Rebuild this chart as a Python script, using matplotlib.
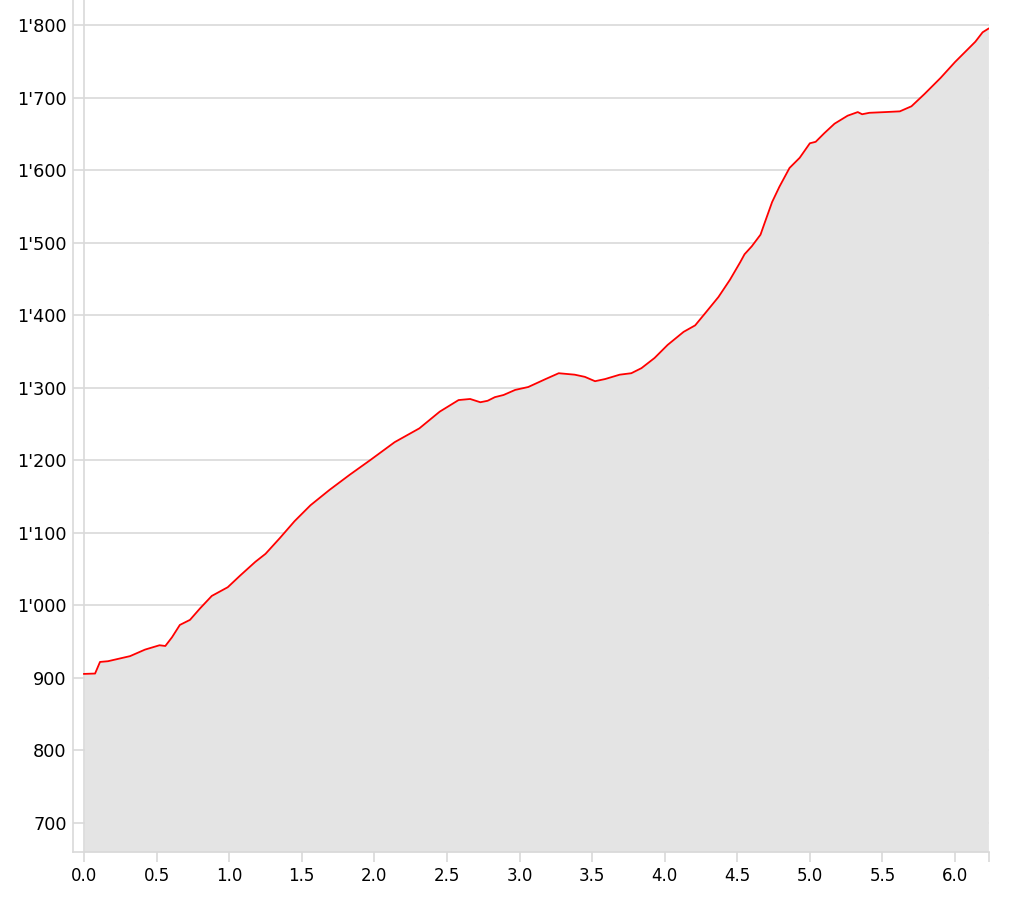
import matplotlib
matplotlib.use("Agg")
import matplotlib.pyplot as plt
from matplotlib.ticker import FuncFormatter, FixedLocator

dist = [0.0, 0.076, 0.11, 0.165, 0.317, 0.42, 0.52, 0.56, 0.606, 0.66, 0.73, 0.80, 0.88, 0.99,
        1.075, 1.18, 1.25, 1.35, 1.45, 1.56, 1.69, 1.83, 1.97, 2.14, 2.31, 2.45, 2.58, 2.66,
        2.73, 2.78, 2.83, 2.89, 2.97, 3.06, 3.18, 3.27, 3.38, 3.45, 3.52, 3.59, 3.69, 3.77,
        3.84, 3.93, 4.02, 4.13, 4.21, 4.28, 4.37, 4.45, 4.52, 4.55, 4.60, 4.66, 4.69, 4.74,
        4.79, 4.86, 4.93, 5.00, 5.04, 5.10, 5.17, 5.26, 5.33, 5.36, 5.41, 5.52, 5.62, 5.70,
        5.79, 5.90, 6.00, 6.07, 6.14, 6.19, 6.23]
elev = [905.5, 906, 922, 923, 930, 939, 945, 944, 956, 973, 980, 996, 1013, 1025,
        1041, 1060, 1071, 1093, 1116, 1138, 1159, 1180, 1200, 1225, 1244, 1267, 1283, 1284.5,
        1280, 1282, 1287, 1290, 1297, 1301, 1312, 1320, 1318, 1315, 1309, 1312, 1318, 1320,
        1327, 1341, 1359, 1377, 1386, 1403, 1425, 1449, 1473, 1484, 1495, 1511, 1528, 1556,
        1577, 1603, 1617, 1637, 1639, 1651, 1664, 1675, 1680, 1677, 1679, 1680, 1681, 1688,
        1705, 1727, 1749, 1763, 1777, 1790, 1795]
xticks = [0.0, 0.5, 1.0, 1.5, 2.0, 2.5, 3.0, 3.5, 4.0, 4.5, 5.0, 5.5, 6.0]
yticks = [700, 800, 900, 1000, 1100, 1200, 1300, 1400, 1500, 1600, 1700, 1800]

grid_c = "#d9d9d9"
fig = plt.figure(figsize=(10.10, 9.06), dpi=100)
ax = fig.add_axes([73/1010, 1 - 852/906, (989-73)/1010, 852/906])
xmin, xmax = -0.076, 6.234
ymin, ymax = 660, 1834.5
ax.set_xlim(xmin, xmax)
ax.set_ylim(ymin, ymax)

ax.fill_between(dist, elev, ymin, color="#e4e4e4", lw=0, zorder=1)
ax.plot(dist, elev, color="#ff0000", lw=1.3, zorder=3)

for y in yticks:
    ax.axhline(y, color=grid_c, lw=1.2, zorder=0.5)
ax.axvline(0, color=grid_c, lw=1.2, zorder=2)

ax.xaxis.set_major_locator(FixedLocator(xticks))
ax.xaxis.set_minor_locator(FixedLocator([xmax]))
ax.yaxis.set_major_locator(FixedLocator(yticks))
ax.xaxis.set_major_formatter(FuncFormatter(lambda v, p: f"{v:.1f}"))
ax.yaxis.set_major_formatter(FuncFormatter(lambda v, p: f"{int(v):,}".replace(",", "'")))

for s in ["top", "right"]:
    ax.spines[s].set_visible(False)
for s in ["left", "bottom"]:
    ax.spines[s].set_color(grid_c)
    ax.spines[s].set_linewidth(1.2)
ax.tick_params(axis="x", which="both", color=grid_c, width=1.2, length=7,
               labelsize=12, labelcolor="black", pad=4)
ax.tick_params(axis="y", which="both", length=0, labelsize=12.7, labelcolor="black", pad=4.5)

fig.savefig("out.png", dpi=100)
